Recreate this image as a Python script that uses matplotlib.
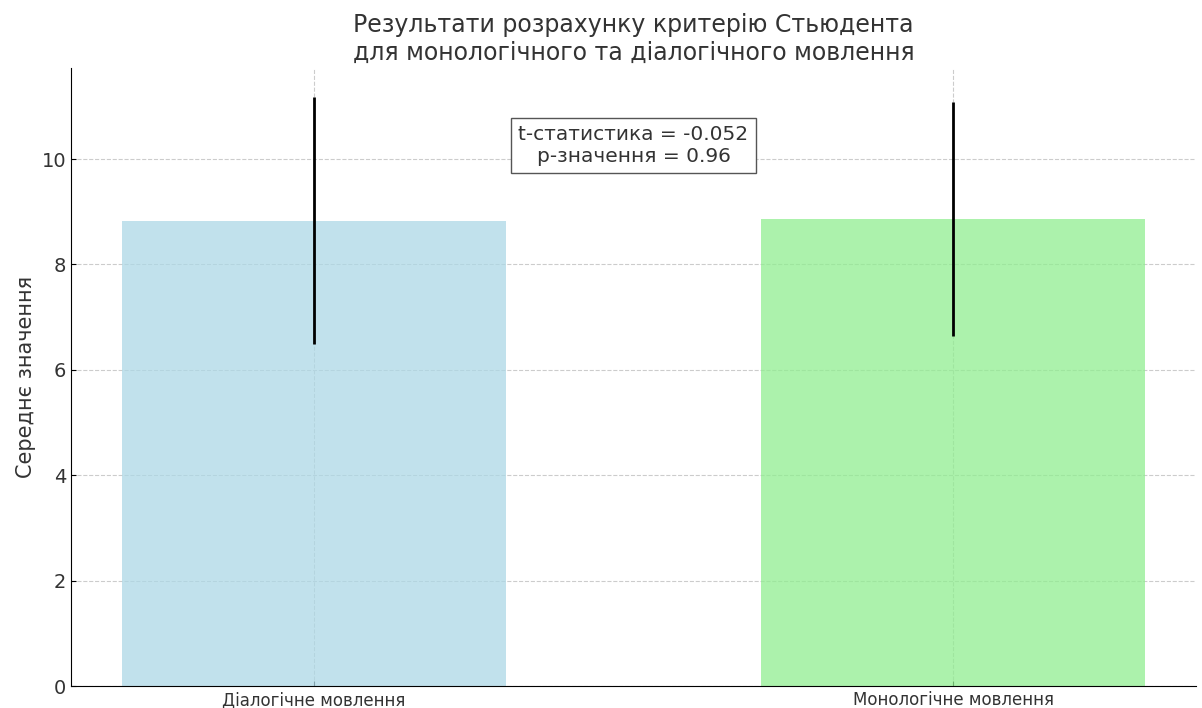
import numpy as np
import matplotlib
matplotlib.use("Agg")
import matplotlib.pyplot as plt

# data
groups = ["Діалогічне мовлення", "Монологічне мовлення"]
means = [8.83, 8.86]
errors = [2.34, 2.22]
colors = ["lightblue", "lightgreen"]
t_stat = -0.052
p_val = 0.96

plt.rcParams['font.family'] = ['DejaVu Sans']
txt = '#333333'

fig, ax = plt.subplots(figsize=(12.02, 7.08), dpi=100)
fig.subplots_adjust(left=0.059, right=0.995, top=0.904, bottom=0.031)

ax.bar(groups, means, yerr=errors, color=colors, alpha=0.75, width=0.6,
       error_kw=dict(ecolor='black', elinewidth=2, capsize=0), zorder=2)

ax.set_title("Результати розрахунку критерію Стьюдента\nдля монологічного та діалогічного мовлення",
             fontsize=17, color=txt, pad=6)
ax.set_ylabel("Середнє значення", fontsize=15, color=txt)

ax.grid(True, linestyle='--', color='#cccccc', linewidth=0.8, zorder=0)
ax.set_axisbelow(True)
ax.spines['top'].set_visible(False)
ax.spines['right'].set_visible(False)
ax.tick_params(axis='y', labelsize=14, labelcolor=txt, direction='in')
ax.tick_params(axis='x', labelsize=12, labelcolor=txt, direction='in')

ax.text(0.5, 0.875, f"t-статистика = {t_stat:.3f}\np-значення = {p_val:.2f}",
        transform=ax.transAxes, ha='center', va='center', fontsize=14.5, color=txt,
        bbox=dict(facecolor='white', edgecolor='#555555', boxstyle='square,pad=0.35'))

fig.savefig("out.png", dpi=100)
